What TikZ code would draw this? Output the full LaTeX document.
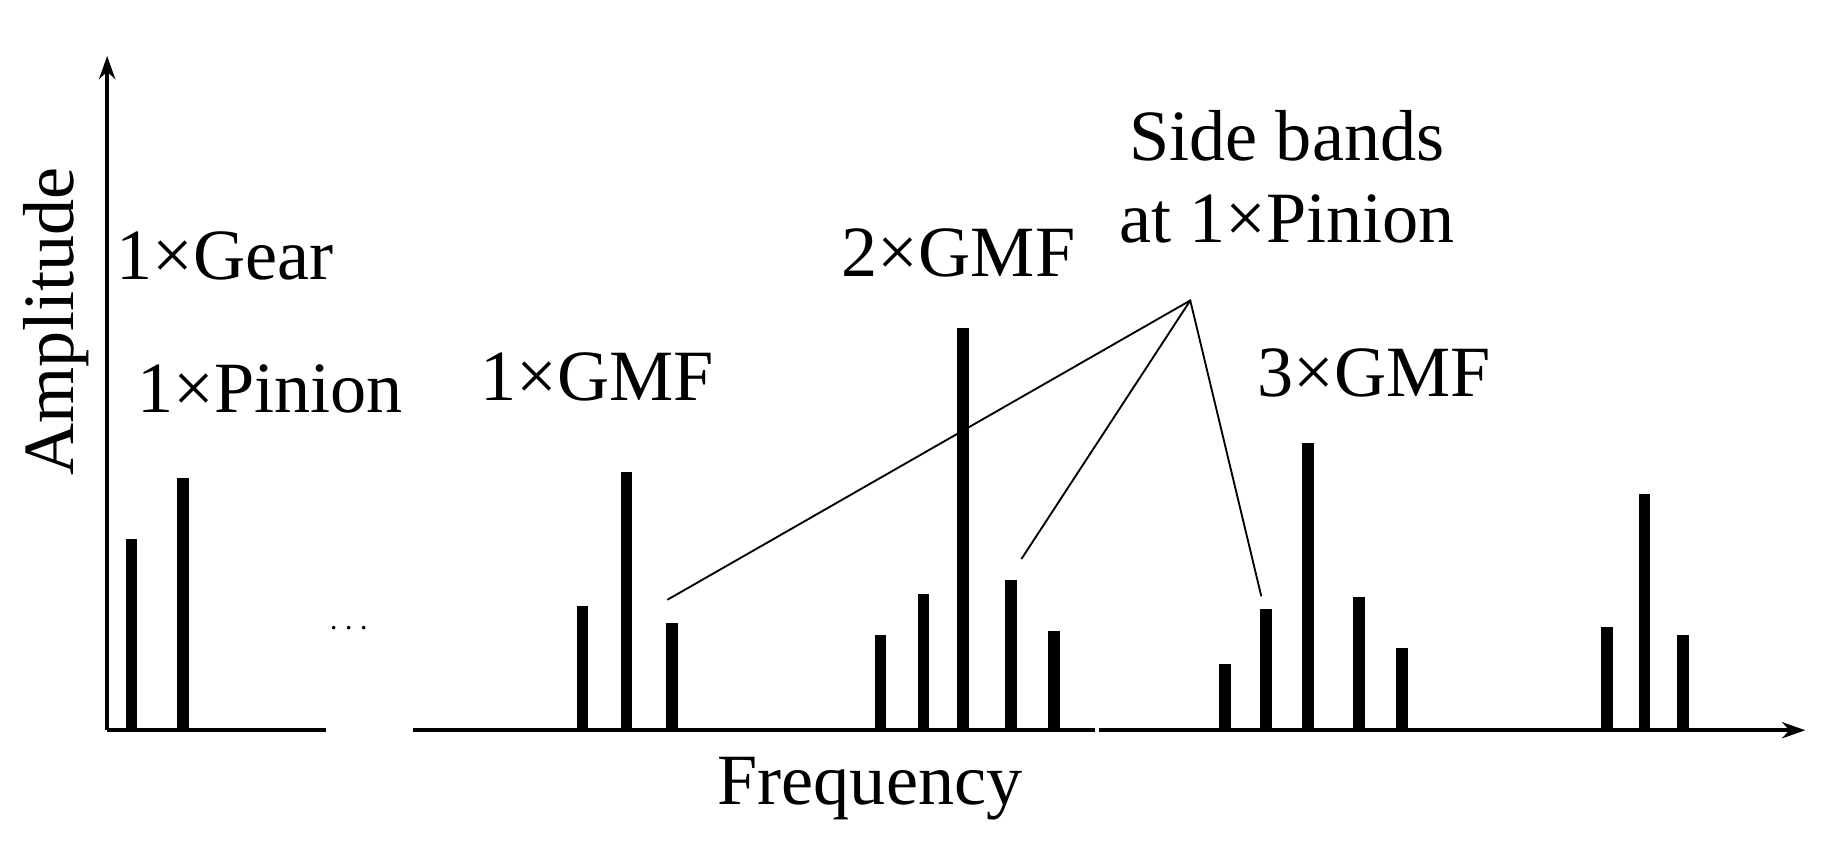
\documentclass[tikz,border=0pt]{standalone}
\usepackage{fontspec}
\setmainfont{Liberation Serif}
\usetikzlibrary{arrows.meta}
\begin{document}
\begin{tikzpicture}[x=0.5pt,y=-0.5pt,
  lbl/.style={font=\fontsize{31}{35}\selectfont, inner sep=0pt},
  bar/.style={line width=5pt},
  ax/.style={line width=1.5pt},
  lead/.style={line width=0.8pt}]
\useasboundingbox (0,0) rectangle (1567,732);
% axes
\coordinate (o) at (92,627);
\coordinate (ytop) at (92,48);
\draw[ax,-{Stealth[length=10pt,width=7pt]}] (o) -- (ytop);
\draw[ax] (o) -- (280,627);
\draw[ax] (355,627) -- (940,627);
\draw[ax,-{Stealth[length=10pt,width=7pt]}] (944,627) -- (1550,627);
% bars
\foreach \x/\t in {113/463,157/410,500/520,538/405,577/535,756/545,793/510,827/282,868/498,905/542,1052/570,1087/523,1123/380,1167/513,1204/556,1380/538,1412/424,1445/545}
  \draw[bar] (\x,627) -- (\x,\t);
% labels
\node[lbl,rotate=90] (amp) at (48,276) {Amplitude};
\node[lbl] (gear) at (193,220) {1×Gear};
\node[lbl] (pin) at (232,334) {1×Pinion};
\node[lbl] (dots) at (300,540) {\fontsize{14}{16}\selectfont$\cdots$};
\node[lbl] (g1) at (513,324) {1×GMF};
\node[lbl] (g2) at (823,217) {2×GMF};
\node[lbl] (g3) at (1180,320) {3×GMF};
\node[lbl,align=center] (sb) at (1105,152) {Side bands\\at 1×Pinion};
\node[lbl] (freq) at (747,677) {Frequency};
% leaders
\coordinate (hub) at (1022,258);
\coordinate (s1) at (573,515);
\coordinate (s2) at (877,480);
\coordinate (s3) at (1083,512);
\draw[lead] (s1) -- (hub) -- (s3);
\draw[lead] (hub) -- (s2);
\end{tikzpicture}
\end{document}
